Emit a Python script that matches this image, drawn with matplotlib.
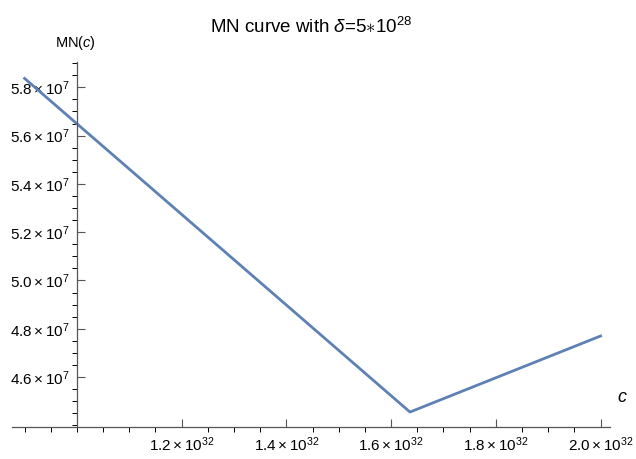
import matplotlib.pyplot as plt
from matplotlib.ticker import FixedLocator, FuncFormatter

plt.rcParams['font.family'] = ['Liberation Sans', 'DejaVu Sans']
plt.rcParams['mathtext.fontset'] = 'custom'
plt.rcParams['mathtext.rm'] = 'Liberation Sans'
plt.rcParams['mathtext.it'] = 'Liberation Sans:italic'

# data
c_vals = [0.9e32, 1.636e32, 2.0e32]
mn_vals = [5.837e7, 4.455e7, 4.77e7]

x_major = [1.2e32, 1.4e32, 1.6e32, 1.8e32, 2.0e32]
y_major = [4.6e7, 4.8e7, 5.0e7, 5.2e7, 5.4e7, 5.6e7, 5.8e7]

fig = plt.figure(figsize=(6.36, 4.59), dpi=100)
ax = fig.add_axes([12 / 636, 32 / 459, 598 / 636, 365 / 459])

ax.plot(c_vals, mn_vals, color='#5E81B5', linewidth=2)

ax.set_xlim(0.876e32, 2.018e32)
ax.set_ylim(4.393e7, 5.905e7)

for s in ['top', 'right']:
    ax.spines[s].set_visible(False)
ax.spines['left'].set_position(('data', 1e32))
for s in ['left', 'bottom']:
    ax.spines[s].set_color('#555555')
    ax.spines[s].set_linewidth(0.9)


def sci(v, pos):
    m, e = f'{v:.1e}'.split('e')
    return r'$%s\times10^{%d}$' % (m, int(e))


ax.xaxis.set_major_locator(FixedLocator(x_major))
ax.xaxis.set_minor_locator(FixedLocator([0.9e32 + 0.05e32 * i for i in range(23)]))
ax.yaxis.set_major_locator(FixedLocator(y_major))
ax.yaxis.set_minor_locator(FixedLocator([4.4e7 + 0.05e7 * i for i in range(31)]))
ax.xaxis.set_major_formatter(FuncFormatter(sci))
ax.yaxis.set_major_formatter(FuncFormatter(sci))

ax.tick_params(direction='in', colors='#555555', labelcolor='black', labelsize=11)
ax.tick_params(which='major', length=6, width=0.8)
ax.tick_params(which='minor', length=3.5, width=0.7)
ax.tick_params(axis='x', pad=6)
ax.tick_params(axis='y', pad=5)

ax.set_title(r'MN curve with $\delta$=5$\ast$10$^{28}$', fontsize=13.5, pad=21)
fig.text(75 / 636, 1 - 43 / 459, r'MN($c$)', ha='center', va='center', fontsize=10.5)
fig.text(622 / 636, 1 - 398 / 459, r'$c$', ha='center', va='center', fontsize=13)

plt.savefig('out.png', dpi=100)
